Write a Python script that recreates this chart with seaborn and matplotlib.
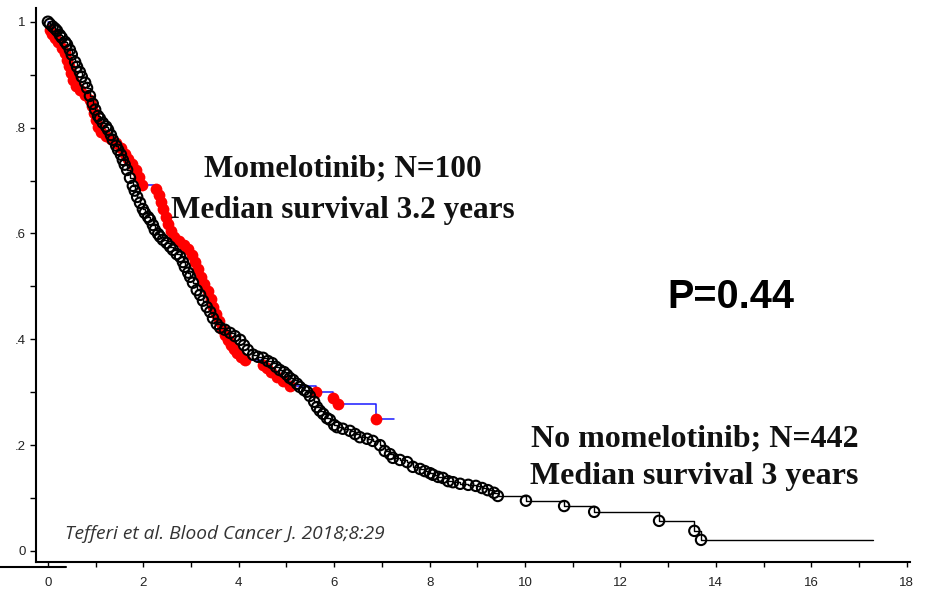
import matplotlib
matplotlib.use("Agg")
import matplotlib.pyplot as plt
import seaborn as sns
import pandas as pd
from matplotlib.lines import Line2D

# ---- Kaplan-Meier data (years, survival proportion) ----
# No momelotinib group (N=442): event times and survival after each event
no_mom_time = [
    0.00, 0.04, 0.10, 0.15, 0.19, 0.25, 0.29, 0.36, 0.40, 0.46, 0.50, 0.57, 0.61,
    0.67, 0.71, 0.78, 0.82, 0.88, 0.94, 0.99, 1.05, 1.09, 1.15, 1.22, 1.26, 1.32,
    1.36, 1.43, 1.47, 1.53, 1.57, 1.61, 1.66, 1.72, 1.78, 1.82, 1.87, 1.93, 1.99,
    2.03, 2.10, 2.14, 2.20, 2.24, 2.31, 2.35, 2.41, 2.49, 2.56, 2.62, 2.70, 2.77,
    2.83, 2.87, 2.94, 2.98, 3.04, 3.12, 3.19, 3.25, 3.33, 3.40, 3.46, 3.54, 3.61,
    3.71, 3.82, 3.92, 4.03, 4.11, 4.19, 4.30, 4.40, 4.51, 4.61, 4.70, 4.78, 4.86,
    4.95, 5.01, 5.07, 5.14, 5.22, 5.28, 5.37, 5.43, 5.49, 5.58, 5.64, 5.70, 5.77,
    5.85, 5.91, 6.00, 6.06, 6.18, 6.33, 6.44, 6.54, 6.69, 6.81, 6.96, 7.06, 7.17,
    7.23, 7.38, 7.53, 7.65, 7.80, 7.90, 8.01, 8.07, 8.18, 8.28, 8.39, 8.49, 8.64,
    8.81, 8.97, 9.10, 9.22, 9.35, 9.43, 10.02, 10.82, 11.45, 12.81, 13.55, 13.69,
]
no_mom_surv = [
    1.000, 0.996, 0.991, 0.987, 0.983, 0.975, 0.970, 0.962, 0.957, 0.947, 0.938,
    0.924, 0.915, 0.905, 0.896, 0.885, 0.875, 0.860, 0.845, 0.834, 0.822, 0.817,
    0.809, 0.802, 0.796, 0.786, 0.777, 0.766, 0.758, 0.749, 0.739, 0.730, 0.720,
    0.705, 0.690, 0.681, 0.669, 0.658, 0.646, 0.639, 0.631, 0.626, 0.616, 0.607,
    0.599, 0.594, 0.588, 0.582, 0.575, 0.569, 0.561, 0.556, 0.546, 0.537, 0.526,
    0.518, 0.507, 0.493, 0.484, 0.473, 0.461, 0.452, 0.440, 0.429, 0.422, 0.418,
    0.412, 0.406, 0.399, 0.389, 0.380, 0.371, 0.367, 0.365, 0.359, 0.355, 0.348,
    0.342, 0.338, 0.333, 0.327, 0.323, 0.316, 0.310, 0.304, 0.301, 0.293, 0.282,
    0.272, 0.265, 0.259, 0.251, 0.248, 0.238, 0.234, 0.231, 0.227, 0.221, 0.215,
    0.212, 0.208, 0.200, 0.189, 0.183, 0.176, 0.172, 0.168, 0.159, 0.155, 0.151,
    0.147, 0.144, 0.140, 0.138, 0.132, 0.130, 0.127, 0.125, 0.123, 0.119, 0.115,
    0.110, 0.104, 0.095, 0.085, 0.074, 0.057, 0.038, 0.021,
]
no_mom_followup_end = 17.30

# Momelotinib group (N=100)
mom_time = [
    0.04, 0.08, 0.15, 0.21, 0.29, 0.36, 0.40, 0.44, 0.48, 0.52, 0.59, 0.67, 0.78,
    0.88, 0.92, 0.96, 1.01, 1.05, 1.11, 1.22, 1.32, 1.43, 1.53, 1.61, 1.68, 1.76,
    1.84, 1.91, 1.97, 2.26, 2.33, 2.37, 2.41, 2.47, 2.52, 2.58, 2.64, 2.75, 2.85,
    2.94, 3.02, 3.08, 3.14, 3.21, 3.27, 3.35, 3.42, 3.46, 3.52, 3.58, 3.65, 3.71,
    3.77, 3.84, 3.90, 3.96, 4.05, 4.13, 4.51, 4.59, 4.68, 4.80, 4.93, 5.07, 5.62,
    5.97, 6.08, 6.88,
]
mom_surv = [
    0.985, 0.977, 0.970, 0.962, 0.951, 0.941, 0.928, 0.917, 0.904, 0.890, 0.879,
    0.871, 0.862, 0.852, 0.841, 0.828, 0.815, 0.801, 0.792, 0.784, 0.779, 0.771,
    0.762, 0.750, 0.741, 0.732, 0.720, 0.707, 0.692, 0.684, 0.673, 0.660, 0.646,
    0.631, 0.618, 0.605, 0.594, 0.586, 0.578, 0.571, 0.560, 0.546, 0.533, 0.518,
    0.505, 0.491, 0.476, 0.461, 0.448, 0.435, 0.420, 0.408, 0.399, 0.389, 0.382,
    0.374, 0.367, 0.361, 0.352, 0.346, 0.338, 0.329, 0.321, 0.312, 0.301, 0.289,
    0.278, 0.250,
]
mom_followup_end = 7.25

x_ticks = [0, 2, 4, 6, 8, 10, 12, 14, 16, 18]
y_ticks = [0, 0.2, 0.4, 0.6, 0.8, 1.0]
y_tick_labels = ["0", ".2", ".4", ".6", ".8", "1"]

# ---- step curves built from the event lists ----
mom_line = pd.DataFrame({
    "t": [0.0] + mom_time + [mom_followup_end],
    "s": [1.0] + mom_surv + [mom_surv[-1]],
})
no_mom_line = pd.DataFrame({
    "t": no_mom_time + [no_mom_followup_end],
    "s": no_mom_surv + [no_mom_surv[-1]],
})
mom_pts = pd.DataFrame({"t": mom_time, "s": mom_surv})
no_mom_pts = pd.DataFrame({"t": no_mom_time, "s": no_mom_surv})

sns.set_theme(style="white")
plt.rcParams["font.family"] = ["Liberation Sans", "DejaVu Sans"]

W, H, DPI = 926, 594, 100
fig = plt.figure(figsize=(W / DPI, H / DPI), dpi=DPI)
ax = fig.add_axes([36 / W, 1 - 562 / H, (910 - 36) / W, (562 - 8) / H])

sns.lineplot(data=mom_line, x="t", y="s", ax=ax, color="#1a1aff", lw=1.1,
             drawstyle="steps-post", estimator=None, sort=False, zorder=2)
sns.scatterplot(data=mom_pts, x="t", y="s", ax=ax, color="#ff0000", s=72,
                edgecolor="#ff0000", linewidth=0, zorder=3)
sns.lineplot(data=no_mom_line, x="t", y="s", ax=ax, color="black", lw=1.0,
             drawstyle="steps-post", estimator=None, sort=False, zorder=4)
sns.scatterplot(data=no_mom_pts, x="t", y="s", ax=ax, marker="o",
                facecolor="none", edgecolor="black", linewidth=1.5, s=56,
                zorder=5)

ax.set_xlim(-0.25, 18.07)
ax.set_ylim(-0.0208, 1.026)
ax.set_xlabel("")
ax.set_ylabel("")
ax.set_xticks(x_ticks)
ax.set_xticks(range(1, 18, 2), minor=True)
ax.set_yticks(y_ticks)
ax.set_yticklabels(y_tick_labels)
ax.set_yticks([0.1, 0.3, 0.5, 0.7, 0.9], minor=True)

for side in ["top", "right"]:
    ax.spines[side].set_visible(False)
for side in ["left", "bottom"]:
    ax.spines[side].set_color("black")
    ax.spines[side].set_linewidth(1.5)

ax.tick_params(axis="y", which="both", direction="out", length=4.5, width=1.0,
               color="black", left=True, labelsize=9.5, pad=3, labelcolor="#222222")
ax.tick_params(axis="x", which="both", direction="out", length=3.5, width=1.0,
               color="black", bottom=True, labelsize=9.5, pad=7, labelcolor="#222222")

# annotations
serif = ["Liberation Serif", "DejaVu Serif"]
ax.text(6.19, 0.722, "Momelotinib; N=100", family=serif, weight="bold",
        fontsize=22.5, ha="center", va="center", color="#111111")
ax.text(6.19, 0.643, "Median survival 3.2 years", family=serif, weight="bold",
        fontsize=22.5, ha="center", va="center", color="#111111")
ax.text(13.55, 0.212, "No momelotinib; N=442", family=serif, weight="bold",
        fontsize=23, ha="center", va="center", color="#111111")
ax.text(13.55, 0.141, "Median survival 3 years", family=serif, weight="bold",
        fontsize=23, ha="center", va="center", color="#111111")
ax.text(14.32, 0.480, "P=0.44", family=["Liberation Sans", "DejaVu Sans"],
        weight="bold", fontsize=28.5, ha="center", va="center", color="black")
ax.text(0.36, 0.032, "Tefferi et al. Blood Cancer J. 2018;8:29",
        family=["Open Sans", "DejaVu Sans"], style="italic", fontsize=13.8,
        ha="left", va="center", color="#333333")

# short axis fragment at the lower left
fig.add_artist(Line2D([0, 66 / W], [1 - 567 / H, 1 - 567 / H],
                      transform=fig.transFigure, color="black", lw=1.5))

fig.savefig("out.png", dpi=DPI, facecolor="white")
